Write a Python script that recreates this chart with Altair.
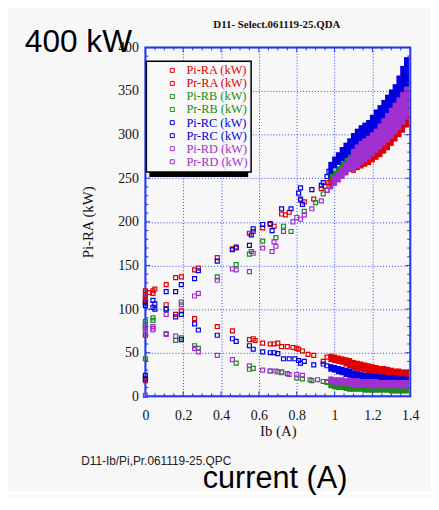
import altair as alt
import pandas as pd

# ---------------- data ----------------
SERIES = ["Pi-RA (kW)", "Pr-RA (kW)", "Pi-RB (kW)", "Pr-RB (kW)",
          "Pi-RC (kW)", "Pr-RC (kW)", "Pi-RD (kW)", "Pr-RD (kW)"]
COLORS = ["#e00000", "#e00000", "#1a8c1a", "#1a8c1a",
          "#0000e0", "#0000e0", "#a030d0", "#a030d0"]

X_TICKS = [0, 0.2, 0.4, 0.6, 0.8, 1.0, 1.2, 1.4]
Y_TICKS = [0, 50, 100, 150, 200, 250, 300, 350, 400]
X_MINOR = [0.05, 0.1, 0.15, 0.25, 0.3, 0.35, 0.45, 0.5, 0.55, 0.65, 0.7, 0.75,
           0.85, 0.9, 0.95, 1.05, 1.1, 1.15, 1.25, 1.3, 1.35]
X_MAJOR = [0.2, 0.4, 0.6, 0.8, 1.0, 1.2]
Y_MINOR = [10, 20, 30, 40, 60, 70, 80, 90, 110, 120, 130, 140, 160, 170, 180, 190,
           210, 220, 230, 240, 260, 270, 280, 290, 310, 320, 330, 340, 360, 370, 380, 390]
Y_MAJOR = [50, 100, 150, 200, 250, 300, 350]

# sparse scatter (x in A, y in kW)
pi_ra_x = [0.0, 0.0, 0.02, 0.04, 0.05, 0.11, 0.16, 0.19, 0.26, 0.28, 0.38, 0.46, 0.48, 0.55, 0.57,
           0.62, 0.66, 0.68, 0.72, 0.74, 0.76, 0.82, 0.84, 0.89, 0.93, 0.95, 0.97]
pi_ra_y = [116, 121, 119, 121, 123, 128, 136, 137, 145, 147, 159, 169, 170, 187, 189,
           193, 197, 195, 209, 208, 211, 225, 223, 226, 238, 241, 245]
pr_ra_x = [0.0, 0.0, 0.0, 0.0, 0.04, 0.11, 0.16, 0.19, 0.26, 0.38, 0.46, 0.55, 0.57, 0.58, 0.62,
           0.66, 0.68, 0.70, 0.72, 0.75, 0.78, 0.80, 0.81, 0.83, 0.86, 0.89, 0.94, 0.96]
pr_ra_y = [110, 113, 70, 18, 118, 105, 94, 98, 89, 80, 75, 65, 66, 64, 61,
           60, 60, 61, 57, 57, 56, 55, 54, 52, 48, 47, 40, 45]
pi_rb_x = [0.0, 0.04, 0.11, 0.19, 0.38, 0.48, 0.55, 0.56, 0.62, 0.69, 0.73, 0.77, 0.84, 0.90, 0.94, 0.96]
pi_rb_y = [86, 90, 100, 108, 137, 151, 163, 166, 178, 182, 195, 189, 212, 222, 232, 236]
pr_rb_x = [0.0, 0.0, 0.04, 0.11, 0.16, 0.19, 0.26, 0.28, 0.48, 0.55, 0.57, 0.66, 0.70, 0.72,
           0.75, 0.80, 0.83, 0.88, 0.94, 0.96]
pr_rb_y = [82, 43, 87, 72, 64, 67, 58, 55, 38, 31, 32, 29, 28, 27, 26, 21, 20, 18, 17, 16]
pi_rc_x = [0.0, 0.0, 0.04, 0.05, 0.11, 0.16, 0.19, 0.26, 0.28, 0.38, 0.46, 0.48, 0.55, 0.56, 0.57,
           0.62, 0.66, 0.67, 0.72, 0.77, 0.81, 0.82, 0.82, 0.83, 0.88, 0.93, 0.94, 0.96, 0.97]
pi_rc_y = [107, 104, 110, 106, 120, 120, 128, 135, 144, 155, 168, 171, 173, 185, 192,
           197, 198, 190, 215, 215, 233, 239, 226, 220, 237, 242, 245, 252, 258]
pr_rc_x = [0.0, 0.0, 0.04, 0.05, 0.11, 0.16, 0.19, 0.19, 0.26, 0.28, 0.38, 0.46, 0.48, 0.55,
           0.57, 0.62, 0.66, 0.68, 0.70, 0.73, 0.76, 0.79, 0.81, 0.82, 0.84, 0.89, 0.94, 0.96]
pr_rc_y = [24, 20, 102, 100, 100, 91, 94, 65, 83, 76, 70, 66, 63, 58,
           54, 51, 50, 50, 49, 43, 43, 43, 41, 38, 40, 36, 37, 35]
pi_rd_x = [0.0, 0.04, 0.11, 0.19, 0.26, 0.28, 0.38, 0.46, 0.48, 0.55, 0.57, 0.62, 0.67, 0.68,
           0.69, 0.73, 0.78, 0.80, 0.82, 0.84, 0.88, 0.93, 0.96]
pi_rd_y = [81, 80, 94, 105, 115, 118, 133, 146, 145, 143, 164, 170, 166, 177,
           172, 189, 200, 205, 203, 208, 215, 224, 236]
pr_rd_x = [0.0, 0.0, 0.0, 0.04, 0.04, 0.11, 0.16, 0.26, 0.28, 0.38, 0.46, 0.55, 0.62, 0.66,
           0.69, 0.72, 0.76, 0.80, 0.83, 0.87, 0.91, 0.96]
pr_rd_y = [78, 75, 1, 78, 76, 71, 69, 55, 51, 47, 42, 35, 30, 29,
           29, 28, 25, 25, 24, 19, 19, 17]

# dense region: low / high edge of each band
band_x = [0.98, 1.00, 1.02, 1.04, 1.06, 1.08, 1.10, 1.12, 1.14, 1.16, 1.18,
          1.20, 1.22, 1.24, 1.26, 1.28, 1.30, 1.32, 1.34, 1.36, 1.38]
pi_ra_hi = [250, 254, 258, 262, 266, 270, 275, 278, 280, 282, 284, 287, 290, 294, 298, 303, 309, 315, 321, 327, 333]
pi_ra_lo = [246, 249, 252, 255, 258, 260, 259, 262, 264, 266, 268, 271, 274, 277, 281, 285, 290, 295, 300, 305, 311]
pi_rb_hi = [252, 256, 261, 266, 272, 278, 287, 292, 296, 299, 302, 307, 312, 318, 324, 330, 336, 343, 352, 360, 368]
pi_rb_lo = [246, 249, 253, 257, 261, 265, 268, 272, 276, 279, 282, 286, 290, 294, 299, 304, 309, 314, 320, 326, 332]
pi_rc_hi = [266, 272, 277, 283, 288, 293, 299, 304, 308, 311, 314, 320, 326, 331, 337, 343, 349, 355, 365, 376, 386]
pi_rc_lo = [258, 264, 268, 272, 276, 280, 282, 286, 290, 294, 298, 302, 307, 312, 318, 324, 330, 336, 343, 350, 358]
pi_rd_hi = [246, 250, 255, 260, 266, 272, 281, 286, 290, 293, 296, 300, 304, 310, 316, 322, 328, 334, 340, 346, 352]
pi_rd_lo = [240, 244, 248, 252, 256, 260, 260, 264, 268, 271, 274, 278, 282, 286, 290, 294, 298, 303, 308, 314, 320]
pr_ra_hi = [46, 45, 44, 43, 42, 41, 39, 38, 37, 36, 35, 34, 33, 32, 32, 31, 30, 29, 29, 28, 28]
pr_ra_lo = [42, 41, 40, 39, 37, 35, 33, 32, 31, 30, 29, 28, 28, 27, 26, 25, 25, 24, 23, 23, 22]
pr_rb_hi = [15, 14, 14, 13, 13, 13, 12, 12, 12, 11, 11, 11, 11, 11, 10, 10, 10, 10, 10, 10, 10]
pr_rb_lo = [12, 11, 10, 10, 9, 8, 8, 8, 8, 7, 7, 7, 7, 7, 7, 7, 6, 6, 6, 6, 6]
pr_rc_hi = [34, 33, 32, 31, 30, 29, 27, 26, 25, 24, 24, 23, 23, 22, 22, 21, 21, 21, 20, 20, 20]
pr_rc_lo = [31, 30, 28, 27, 25, 24, 22, 21, 21, 20, 19, 19, 18, 18, 18, 17, 17, 17, 16, 16, 16]
pr_rd_hi = [20, 19, 19, 19, 18, 18, 18, 18, 17, 17, 17, 17, 17, 16, 16, 16, 16, 16, 16, 16, 16]
pr_rd_lo = [17, 16, 16, 15, 15, 14, 13, 13, 13, 13, 13, 12, 12, 12, 12, 12, 12, 12, 12, 12, 12]

TITLE = "D11- Select.061119-25.QDA"
FOOT = "D11-Ib/Pi,Pr.061119-25.QPC"
BIG_TOP = "400 kW"
BIG_BOTTOM = "current (A)"

# ---------------- tables ----------------
sparse = [(SERIES[0], pi_ra_x, pi_ra_y), (SERIES[1], pr_ra_x, pr_ra_y),
          (SERIES[2], pi_rb_x, pi_rb_y), (SERIES[3], pr_rb_x, pr_rb_y),
          (SERIES[4], pi_rc_x, pi_rc_y), (SERIES[5], pr_rc_x, pr_rc_y),
          (SERIES[6], pi_rd_x, pi_rd_y), (SERIES[7], pr_rd_x, pr_rd_y)]
rows = []
for name, xs, ys in sparse:
    for a, b in zip(xs, ys):
        rows.append({"series": name, "x": a, "y": b})
pts_df = pd.DataFrame(rows)

bands = [(SERIES[0], pi_ra_lo, pi_ra_hi), (SERIES[1], pr_ra_lo, pr_ra_hi),
         (SERIES[2], pi_rb_lo, pi_rb_hi), (SERIES[3], pr_rb_lo, pr_rb_hi),
         (SERIES[4], pi_rc_lo, pi_rc_hi), (SERIES[5], pr_rc_lo, pr_rc_hi),
         (SERIES[6], pi_rd_lo, pi_rd_hi), (SERIES[7], pr_rd_lo, pr_rd_hi)]
brows = []
for name, lo, hi in bands:
    for a, l, h in zip(band_x, lo, hi):
        brows.append({"series": name, "x": a, "y": l, "hi": h})
band_df = pd.DataFrame(brows)

# ---------------- chart ----------------
W, H = 268, 353
PAD_L, PAD_T, PAD_R, PAD_B = 139, 37, 21, 100
BLUE = "#2233ee"
GRID = "#3344ff"
SERIF = "Liberation Serif"
SANS = "Liberation Sans"

xscale = alt.Scale(domain=[0, 1.4], nice=False, zero=False)
yscale = alt.Scale(domain=[0, 400], nice=False, zero=False)
cscale = alt.Scale(domain=SERIES, range=COLORS)

label_expr = ("indexof(datum.value,'RA')>=0 ? '#e00000' : "
              "indexof(datum.value,'RB')>=0 ? '#1a8c1a' : "
              "indexof(datum.value,'RC')>=0 ? '#0000e0' : '#a030d0'")

X_AXIS = alt.Axis(values=X_TICKS, format="~g", title="Ib (A)", grid=True,
                  gridColor=GRID, gridDash=[1, 2], gridWidth=1,
                  domain=False, ticks=False, labelFont=SERIF, labelFontSize=14,
                  labelColor="#111", labelPadding=12, labelFlush=False,
                  labelOverlap=False, titleFont=SERIF, titleFontSize=15,
                  titleFontWeight="normal", titleColor="#111", titlePadding=2)
Y_AXIS = alt.Axis(values=Y_TICKS, format="d", title="Pi-RA (kW)", grid=True,
                  gridColor=GRID, gridDash=[1, 2], gridWidth=1,
                  domain=False, ticks=False, labelFont=SERIF, labelFontSize=14,
                  labelColor="#111", labelPadding=7, labelFlush=False,
                  labelOverlap=False, titleFont=SERIF, titleFontSize=15,
                  titleFontWeight="normal", titleColor="#111", titlePadding=23)
LEGEND = alt.Legend(title=None, orient="none", legendX=1, legendY=14,
                    padding=3, symbolOffset=17, labelOffset=8,
                    rowPadding=0.2, symbolSize=16, symbolStrokeWidth=1,
                    symbolType="square", labelFont=SERIF,
                    labelFontSize=12.5, labelColor={"expr": label_expr},
                    fillColor="#f8f8f8", strokeColor="black")

one = pd.DataFrame({"k": [0]})

shadow = alt.Chart(one).mark_rect(color="black").encode(
    x=alt.value(4), x2=alt.value(104), y=alt.value(18), y2=alt.value(131))

band_layer = alt.Chart(band_df).mark_rule(strokeWidth=5, strokeCap="square").encode(
    x=alt.X("x:Q", scale=xscale, axis=X_AXIS),
    y=alt.Y("y:Q", scale=yscale, axis=Y_AXIS),
    y2="hi:Q",
    color=alt.Color("series:N", scale=cscale, legend=LEGEND),
)

points = alt.Chart(pts_df).mark_point(shape="square", filled=False, size=16,
                                      strokeWidth=1.2, opacity=1).encode(
    x=alt.X("x:Q", scale=xscale, axis=X_AXIS),
    y=alt.Y("y:Q", scale=yscale, axis=Y_AXIS),
    color=alt.Color("series:N", scale=cscale, legend=LEGEND),
)


def xt(vals, y0, y1):
    return alt.Chart(pd.DataFrame({"x": vals})).mark_rule(color=BLUE, strokeWidth=1).encode(
        x=alt.X("x:Q", scale=xscale, axis=X_AXIS), y=alt.value(y0), y2=alt.value(y1))


def yt(vals, x0, x1):
    return alt.Chart(pd.DataFrame({"y": vals})).mark_rule(color=BLUE, strokeWidth=1).encode(
        y=alt.Y("y:Q", scale=yscale, axis=Y_AXIS), x=alt.value(x0), x2=alt.value(x1))


ticks = [xt(X_MINOR, H, H - 3), xt(X_MINOR, 0, 3), xt(X_MAJOR, H, H - 5), xt(X_MAJOR, 0, 5),
         yt(Y_MINOR, 0, 3), yt(Y_MINOR, W, W - 3), yt(Y_MAJOR, 0, 5), yt(Y_MAJOR, W, W - 5)]

title_t = alt.Chart(one).mark_text(text=TITLE, font=SERIF, fontSize=11, fontWeight="bold",
                                   align="center", baseline="alphabetic", color="#111").encode(
    x=alt.value(133), y=alt.value(-20))
big_top = alt.Chart(one).mark_text(text=BIG_TOP, font=SANS, fontSize=32, align="left",
                                   baseline="alphabetic", color="black").encode(
    x=alt.value(-122), y=alt.value(5))
foot_t = alt.Chart(one).mark_text(text=FOOT, font=SANS, fontSize=12, align="left",
                                  baseline="alphabetic", color="#222").encode(
    x=alt.value(-65), y=alt.value(422))
white = alt.Chart(one).mark_rect(color="white").encode(
    x=alt.value(-PAD_L), x2=alt.value(W + PAD_R), y=alt.value(449), y2=alt.value(H + PAD_B))
big_bot = alt.Chart(one).mark_text(text=BIG_BOTTOM, font=SANS, fontSize=31, align="left",
                                   baseline="alphabetic", color="black").encode(
    x=alt.value(58), y=alt.value(446))

chart = alt.layer(shadow, band_layer, points, *ticks, title_t, foot_t, white, big_bot, big_top).properties(
    width=W, height=H,
    padding={"left": PAD_L, "top": PAD_T, "right": PAD_R, "bottom": PAD_B},
    autosize=alt.AutoSizeParams(type="none"),
    background="#f7f7f7",
).configure_view(stroke=BLUE, strokeWidth=2).configure_legend(strokeWidth=1.5)

chart.save("out.html", embed_options={"renderer": "svg", "actions": False})
